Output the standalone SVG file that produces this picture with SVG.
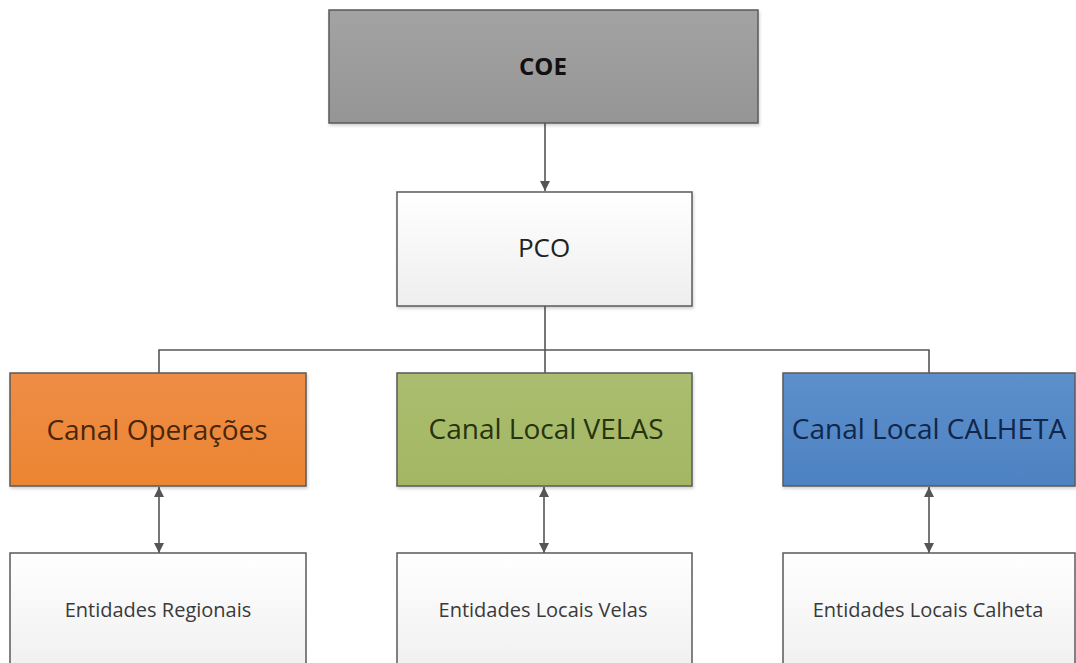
<svg xmlns="http://www.w3.org/2000/svg" width="1076" height="663" viewBox="0 0 1076 663">
  <style>
    .box { stroke: #5a5a5a; stroke-width: 1.5; }
    .t { font-family: "Open Sans", "Liberation Sans", sans-serif; text-anchor: middle; }
    .conn { fill: none; stroke: #555555; stroke-width: 1.6; }
  </style>
  <defs>
    <linearGradient id="gGray" x1="0" y1="0" x2="0" y2="1">
      <stop offset="0" stop-color="#a3a3a3"/>
      <stop offset="1" stop-color="#959595"/>
    </linearGradient>
    <linearGradient id="gWhite" x1="0" y1="0" x2="0" y2="1">
      <stop offset="0" stop-color="#ffffff"/>
      <stop offset="1" stop-color="#eeeeee"/>
    </linearGradient>
    <linearGradient id="gOrange" x1="0" y1="0" x2="0" y2="1">
      <stop offset="0" stop-color="#ee8d45"/>
      <stop offset="1" stop-color="#ec8533"/>
    </linearGradient>
    <linearGradient id="gGreen" x1="0" y1="0" x2="0" y2="1">
      <stop offset="0" stop-color="#aabd70"/>
      <stop offset="1" stop-color="#a3b763"/>
    </linearGradient>
    <linearGradient id="gBlue" x1="0" y1="0" x2="0" y2="1">
      <stop offset="0" stop-color="#5c8fcb"/>
      <stop offset="1" stop-color="#4d82c2"/>
    </linearGradient>
    <filter id="sh" x="-5%" y="-5%" width="110%" height="115%">
      <feDropShadow dx="1" dy="2" stdDeviation="1.5" flood-color="#000" flood-opacity="0.18"/>
    </filter>
    <marker id="arr" viewBox="0 0 10 10" refX="10" refY="5" markerWidth="10" markerHeight="10" markerUnits="userSpaceOnUse" orient="auto-start-reverse">
      <path d="M0,0 L10,5 L0,10 Z" fill="#555555"/>
    </marker>
  </defs>

  <g id="connectors">
    <line class="conn" x1="545" y1="123" x2="545" y2="191" marker-end="url(#arr)"/>
    <path class="conn" d="M545,306 V350 M159,373 V350 H929 V373 M545,350 V373"/>
    <line class="conn" x1="159" y1="487" x2="159" y2="553" marker-start="url(#arr)" marker-end="url(#arr)"/>
    <line class="conn" x1="544" y1="487" x2="544" y2="553" marker-start="url(#arr)" marker-end="url(#arr)"/>
    <line class="conn" x1="929" y1="487" x2="929" y2="553" marker-start="url(#arr)" marker-end="url(#arr)"/>
  </g>

  <g id="node-coe">
    <rect class="box" x="329" y="10" width="429" height="113" fill="url(#gGray)" filter="url(#sh)"/>
    <text class="t" x="543" y="75" font-size="24" font-weight="bold" fill="#111111">COE</text>
  </g>

  <g id="node-pco">
    <rect class="box" x="397" y="192" width="295" height="114" fill="url(#gWhite)" filter="url(#sh)"/>
    <text class="t" x="544" y="257" font-size="26" fill="#222222">PCO</text>
  </g>

  <g id="node-operacoes">
    <rect class="box" x="10" y="373" width="296" height="113" fill="url(#gOrange)" filter="url(#sh)"/>
    <text class="t" x="157" y="440" font-size="28" fill="#4a2608">Canal Operações</text>
  </g>

  <g id="node-velas">
    <rect class="box" x="397" y="373" width="295" height="113" fill="url(#gGreen)" filter="url(#sh)"/>
    <text class="t" x="546" y="439" font-size="28" fill="#26330d">Canal Local VELAS</text>
  </g>

  <g id="node-calheta">
    <rect class="box" x="783" y="373" width="292" height="113" fill="url(#gBlue)" filter="url(#sh)"/>
    <text class="t" x="929" y="439" font-size="28" fill="#10264a">Canal Local CALHETA</text>
  </g>

  <g id="node-ent-regionais">
    <rect class="box" x="10" y="553" width="296" height="130" fill="url(#gWhite)"/>
    <text class="t" x="158" y="617" font-size="20" fill="#3a3a3a">Entidades Regionais</text>
  </g>

  <g id="node-ent-velas">
    <rect class="box" x="397" y="553" width="295" height="130" fill="url(#gWhite)"/>
    <text class="t" x="543" y="617" font-size="20" fill="#3a3a3a">Entidades Locais Velas</text>
  </g>

  <g id="node-ent-calheta">
    <rect class="box" x="783" y="553" width="292" height="130" fill="url(#gWhite)"/>
    <text class="t" x="928" y="617" font-size="20" fill="#3a3a3a">Entidades Locais Calheta</text>
  </g>
</svg>
